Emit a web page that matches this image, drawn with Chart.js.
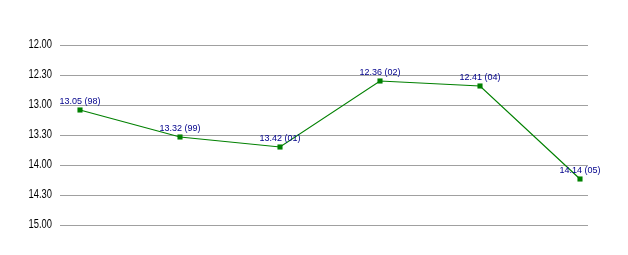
<!DOCTYPE html>
<html>
<head>
<meta charset="utf-8">
<script src="https://cdn.jsdelivr.net/npm/chart.js@4/dist/chart.umd.min.js"></script>
<style>
  html, body { margin: 0; padding: 0; background: #fff; }
  canvas { display: block; }
</style>
</head>
<body>
<canvas id="chart" width="628" height="255"></canvas>
<script>
// Years (shown in brackets next to each time)
const years = ['98', '99', '01', '02', '04', '05'];
// Times in seconds (13.05 = 13 min 05 s)
const times = [785, 812, 822, 756, 761, 854];
// Y axis range in seconds (12.00 .. 15.00 every 30 s)
const yMin = 720;
const yMax = 900;
const yStep = 30;

function fmtTime(sec) {
  const m = Math.floor(sec / 60);
  const s = sec % 60;
  return m + '.' + String(s).padStart(2, '0');
}

// Draws "13.05 (98)" above each point
const pointLabels = {
  id: 'pointLabels',
  afterDatasetsDraw(chart) {
    const ctx = chart.ctx;
    const meta = chart.getDatasetMeta(0);
    ctx.save();
    ctx.font = '9px "Liberation Sans", Arial, sans-serif';
    ctx.fillStyle = '#00008b';
    ctx.textAlign = 'center';
    ctx.textBaseline = 'alphabetic';
    meta.data.forEach((pt, i) => {
      ctx.fillText(fmtTime(times[i]) + ' (' + years[i] + ')', pt.x, pt.y - 6);
    });
    ctx.restore();
  }
};

// y tick labels in a narrow face (no Arial Narrow here, so squeeze Liberation Sans)
const narrowTicks = {
  id: 'narrowTicks',
  afterDraw(chart) {
    const ctx = chart.ctx;
    const y = chart.scales.y;
    ctx.save();
    ctx.font = '12px "Liberation Sans", Arial, sans-serif';
    ctx.fillStyle = '#000';
    ctx.textAlign = 'right';
    ctx.textBaseline = 'middle';
    const sx = 0.78;
    y.ticks.forEach(t => {
      const py = y.getPixelForValue(t.value);
      ctx.save();
      ctx.translate(52, py);
      ctx.scale(sx, 1);
      ctx.fillText(fmtTime(t.value), 0, 0);
      ctx.restore();
    });
    ctx.restore();
  }
};

new Chart(document.getElementById('chart'), {
  type: 'line',
  data: {
    datasets: [{
      data: times.map((t, i) => ({ x: i, y: t })),
      borderColor: '#008000',
      backgroundColor: '#008000',
      borderWidth: 1.2,
      tension: 0,
      pointStyle: 'rect',
      pointRadius: 3.6,
      pointBorderWidth: 0,
      pointBackgroundColor: '#008000',
      pointBorderColor: '#008000'
    }]
  },
  options: {
    responsive: false,
    animation: false,
    layout: { padding: { top: 45, bottom: 30, left: 0, right: 40 } },
    plugins: {
      legend: { display: false },
      tooltip: { enabled: false }
    },
    scales: {
      x: {
        type: 'linear',
        display: false,
        min: -0.2,
        max: 5.08
      },
      y: {
        reverse: true,
        min: yMin,
        max: yMax,
        afterFit: function(scale) { scale.width = 60; },
        border: { display: false },
        grid: { color: '#a0a0a0', lineWidth: 1, drawTicks: false },
        ticks: {
          display: false,
          stepSize: yStep
        }
      }
    }
  },
  plugins: [pointLabels, narrowTicks]
});
</script>
</body>
</html>
